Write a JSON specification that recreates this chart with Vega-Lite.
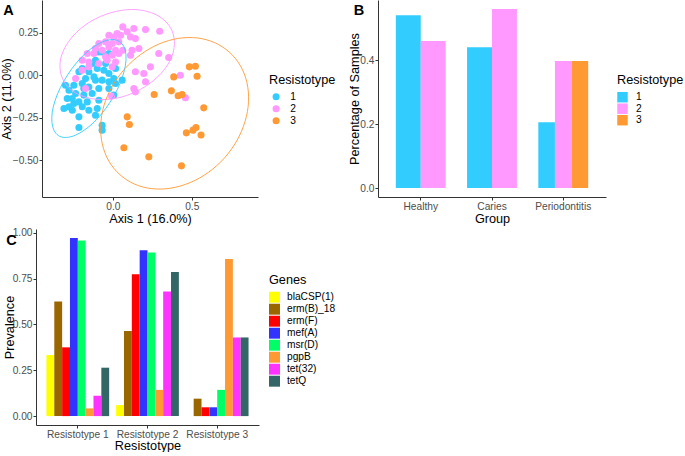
{
"$schema": "https://vega.github.io/schema/vega-lite/v6.json",
"padding": 0,
"background": "white",
"config": {
  "font": "Liberation Sans",
  "view": {"stroke": null},
  "axis": {"domainColor": "#333333", "domainWidth": 1, "tickColor": "#333333", "tickSize": 3, "labelColor": "#4D4D4D", "labelFontSize": 10.2, "titleFontSize": 12.7, "titleFontWeight": "normal", "titleColor": "#000000", "grid": false, "labelPadding": 1, "titlePadding": 1},
  "axisY": {"titlePadding": -2},
  "legend": {"titleFontSize": 12.7, "titleFontWeight": "normal", "labelFontSize": 10.2, "labelColor": "#000000", "titleColor": "#000000", "padding": 0, "symbolStrokeWidth": 0},
  "title": {"fontSize": 14.5, "fontWeight": "bold", "anchor": "start", "frame": "bounds", "baseline": "top", "offset": -18, "color": "#000000"}
},
"datasets": {
  "pts": [
    {"x":-0.089,"y":0.137,"R":"1"},{"x":-0.110,"y":0.088,"R":"1"},{"x":-0.131,"y":0.069,"R":"1"},{"x":-0.046,"y":0.069,"R":"1"},{"x":-0.194,"y":0.039,"R":"1"},{"x":-0.215,"y":0.020,"R":"1"},{"x":-0.152,"y":0.020,"R":"1"},{"x":-0.099,"y":0.039,"R":"1"},{"x":-0.057,"y":0.029,"R":"1"},{"x":-0.025,"y":0.010,"R":"1"},{"x":0.017,"y":0.039,"R":"1"},{"x":-0.173,"y":-0.020,"R":"1"},{"x":-0.120,"y":-0.010,"R":"1"},{"x":-0.068,"y":-0.029,"R":"1"},{"x":-0.025,"y":-0.039,"R":"1"},{"x":0.017,"y":-0.049,"R":"1"},{"x":0.059,"y":-0.029,"R":"1"},{"x":-0.300,"y":-0.059,"R":"1"},{"x":-0.247,"y":-0.059,"R":"1"},{"x":-0.194,"y":-0.049,"R":"1"},{"x":-0.152,"y":-0.069,"R":"1"},{"x":-0.089,"y":-0.078,"R":"1"},{"x":-0.025,"y":-0.078,"R":"1"},{"x":0.006,"y":-0.117,"R":"1"},{"x":-0.278,"y":-0.088,"R":"1"},{"x":-0.236,"y":-0.108,"R":"1"},{"x":-0.184,"y":-0.117,"R":"1"},{"x":-0.131,"y":-0.108,"R":"1"},{"x":-0.257,"y":-0.137,"R":"1"},{"x":-0.215,"y":-0.157,"R":"1"},{"x":-0.278,"y":-0.186,"R":"1"},{"x":-0.310,"y":-0.196,"R":"1"},{"x":-0.257,"y":-0.206,"R":"1"},{"x":-0.194,"y":-0.186,"R":"1"},{"x":-0.152,"y":-0.206,"R":"1"},{"x":-0.110,"y":-0.235,"R":"1"},{"x":-0.215,"y":-0.245,"R":"1"},{"x":-0.099,"y":-0.196,"R":"1"},{"x":-0.068,"y":-0.294,"R":"1"},{"x":-0.068,"y":-0.323,"R":"1"},{"x":-0.215,"y":-0.307,"R":"1"},{"x":-0.162,"y":-0.157,"R":"1"},{"x":-0.247,"y":-0.166,"R":"1"},{"x":-0.089,"y":-0.147,"R":"1"},{"x":-0.289,"y":-0.137,"R":"1"},{"x":-0.184,"y":-0.078,"R":"1"},{"x":-0.110,"y":0.137,"R":"1"},{"x":-0.068,"y":0.137,"R":"1"},{"x":-0.025,"y":0.127,"R":"1"},{"x":0.006,"y":-0.020,"R":"1"},{"x":-0.110,"y":-0.029,"R":"1"},
    {"x":0.063,"y":0.284,"R":"2"},{"x":0.133,"y":0.274,"R":"2"},{"x":0.207,"y":0.268,"R":"2"},{"x":0.297,"y":0.258,"R":"2"},{"x":0.027,"y":0.245,"R":"2"},{"x":0.091,"y":0.255,"R":"2"},{"x":-0.025,"y":0.235,"R":"2"},{"x":0.006,"y":0.225,"R":"2"},{"x":0.049,"y":0.235,"R":"2"},{"x":0.112,"y":0.225,"R":"2"},{"x":0.143,"y":0.215,"R":"2"},{"x":-0.089,"y":0.186,"R":"2"},{"x":-0.046,"y":0.196,"R":"2"},{"x":-0.004,"y":0.186,"R":"2"},{"x":0.038,"y":0.196,"R":"2"},{"x":-0.110,"y":0.157,"R":"2"},{"x":-0.068,"y":0.147,"R":"2"},{"x":-0.025,"y":0.166,"R":"2"},{"x":0.017,"y":0.147,"R":"2"},{"x":0.063,"y":0.147,"R":"2"},{"x":0.122,"y":0.147,"R":"2"},{"x":0.165,"y":0.157,"R":"2"},{"x":-0.162,"y":0.127,"R":"2"},{"x":-0.120,"y":0.127,"R":"2"},{"x":-0.046,"y":0.108,"R":"2"},{"x":-0.004,"y":0.117,"R":"2"},{"x":0.038,"y":0.127,"R":"2"},{"x":0.112,"y":0.117,"R":"2"},{"x":0.291,"y":0.127,"R":"2"},{"x":0.354,"y":0.104,"R":"2"},{"x":-0.194,"y":0.088,"R":"2"},{"x":-0.152,"y":0.078,"R":"2"},{"x":-0.089,"y":0.069,"R":"2"},{"x":-0.036,"y":0.088,"R":"2"},{"x":0.017,"y":0.078,"R":"2"},{"x":0.238,"y":0.049,"R":"2"},{"x":0.143,"y":0.020,"R":"2"},{"x":0.196,"y":0.010,"R":"2"},{"x":-0.194,"y":0.029,"R":"2"},{"x":-0.152,"y":0.049,"R":"2"},{"x":-0.236,"y":-0.020,"R":"2"},{"x":-0.004,"y":0.049,"R":"2"},{"x":0.207,"y":-0.039,"R":"2"},{"x":0.133,"y":-0.078,"R":"2"},{"x":0.143,"y":-0.098,"R":"2"},{"x":-0.173,"y":-0.078,"R":"2"},{"x":-0.008,"y":-0.123,"R":"2"},{"x":0.428,"y":0.000,"R":"2"},{"x":0.460,"y":-0.133,"R":"2"},
    {"x":0.485,"y":0.049,"R":"3"},{"x":0.523,"y":0.053,"R":"3"},{"x":0.386,"y":-0.010,"R":"3"},{"x":0.534,"y":-0.006,"R":"3"},{"x":0.262,"y":-0.114,"R":"3"},{"x":0.371,"y":-0.092,"R":"3"},{"x":0.414,"y":-0.121,"R":"3"},{"x":0.439,"y":-0.114,"R":"3"},{"x":0.576,"y":-0.192,"R":"3"},{"x":0.466,"y":-0.339,"R":"3"},{"x":0.508,"y":-0.323,"R":"3"},{"x":0.527,"y":-0.307,"R":"3"},{"x":0.559,"y":-0.352,"R":"3"},{"x":0.091,"y":-0.245,"R":"3"},{"x":0.105,"y":-0.290,"R":"3"},{"x":0.070,"y":-0.427,"R":"3"},{"x":0.228,"y":-0.480,"R":"3"},{"x":0.435,"y":-0.533,"R":"3"}
  ],
  "ell": [
    {"R":"1","k":0,"x":0.041,"y":0.198},{"R":"1","k":1,"x":0.000,"y":0.209},{"R":"1","k":2,"x":-0.052,"y":0.201},{"R":"1","k":3,"x":-0.110,"y":0.174},{"R":"1","k":4,"x":-0.172,"y":0.130},{"R":"1","k":5,"x":-0.232,"y":0.071},{"R":"1","k":6,"x":-0.286,"y":0.003},{"R":"1","k":7,"x":-0.332,"y":-0.072},{"R":"1","k":8,"x":-0.365,"y":-0.146},{"R":"1","k":9,"x":-0.384,"y":-0.216},{"R":"1","k":10,"x":-0.386,"y":-0.277},{"R":"1","k":11,"x":-0.373,"y":-0.324},{"R":"1","k":12,"x":-0.345,"y":-0.355},{"R":"1","k":13,"x":-0.304,"y":-0.366},{"R":"1","k":14,"x":-0.252,"y":-0.358},{"R":"1","k":15,"x":-0.194,"y":-0.331},{"R":"1","k":16,"x":-0.132,"y":-0.287},{"R":"1","k":17,"x":-0.072,"y":-0.228},{"R":"1","k":18,"x":-0.018,"y":-0.159},{"R":"1","k":19,"x":0.028,"y":-0.085},{"R":"1","k":20,"x":0.061,"y":-0.010},{"R":"1","k":21,"x":0.080,"y":0.060},{"R":"1","k":22,"x":0.083,"y":0.120},{"R":"1","k":23,"x":0.070,"y":0.168},
    {"R":"2","k":0,"x":0.375,"y":0.261},{"R":"2","k":1,"x":0.336,"y":0.314},{"R":"2","k":2,"x":0.276,"y":0.355},{"R":"2","k":3,"x":0.199,"y":0.379},{"R":"2","k":4,"x":0.111,"y":0.386},{"R":"2","k":5,"x":0.016,"y":0.374},{"R":"2","k":6,"x":-0.077,"y":0.346},{"R":"2","k":7,"x":-0.164,"y":0.302},{"R":"2","k":8,"x":-0.237,"y":0.246},{"R":"2","k":9,"x":-0.292,"y":0.181},{"R":"2","k":10,"x":-0.326,"y":0.113},{"R":"2","k":11,"x":-0.335,"y":0.045},{"R":"2","k":12,"x":-0.320,"y":-0.018},{"R":"2","k":13,"x":-0.281,"y":-0.072},{"R":"2","k":14,"x":-0.221,"y":-0.112},{"R":"2","k":15,"x":-0.144,"y":-0.136},{"R":"2","k":16,"x":-0.056,"y":-0.143},{"R":"2","k":17,"x":0.039,"y":-0.132},{"R":"2","k":18,"x":0.132,"y":-0.103},{"R":"2","k":19,"x":0.218,"y":-0.059},{"R":"2","k":20,"x":0.292,"y":-0.003},{"R":"2","k":21,"x":0.347,"y":0.061},{"R":"2","k":22,"x":0.381,"y":0.130},{"R":"2","k":23,"x":0.390,"y":0.198},
    {"R":"3","k":0,"x":0.739,"y":0.135},{"R":"3","k":1,"x":0.646,"y":0.191},{"R":"3","k":2,"x":0.535,"y":0.219},{"R":"3","k":3,"x":0.414,"y":0.216},{"R":"3","k":4,"x":0.292,"y":0.183},{"R":"3","k":5,"x":0.177,"y":0.122},{"R":"3","k":6,"x":0.076,"y":0.038},{"R":"3","k":7,"x":-0.003,"y":-0.064},{"R":"3","k":8,"x":-0.056,"y":-0.177},{"R":"3","k":9,"x":-0.077,"y":-0.293},{"R":"3","k":10,"x":-0.067,"y":-0.404},{"R":"3","k":11,"x":-0.026,"y":-0.504},{"R":"3","k":12,"x":0.044,"y":-0.584},{"R":"3","k":13,"x":0.137,"y":-0.640},{"R":"3","k":14,"x":0.248,"y":-0.667},{"R":"3","k":15,"x":0.368,"y":-0.664},{"R":"3","k":16,"x":0.491,"y":-0.631},{"R":"3","k":17,"x":0.606,"y":-0.571},{"R":"3","k":18,"x":0.707,"y":-0.487},{"R":"3","k":19,"x":0.786,"y":-0.385},{"R":"3","k":20,"x":0.838,"y":-0.272},{"R":"3","k":21,"x":0.860,"y":-0.156},{"R":"3","k":22,"x":0.850,"y":-0.044},{"R":"3","k":23,"x":0.809,"y":0.055}
  ],
  "grp": [
    {"Group":"Healthy","R":"1","pct":0.54},{"Group":"Healthy","R":"2","pct":0.46},
    {"Group":"Caries","R":"1","pct":0.44},{"Group":"Caries","R":"2","pct":0.56},
    {"Group":"Periodontitis","R":"1","pct":0.206},{"Group":"Periodontitis","R":"2","pct":0.397},{"Group":"Periodontitis","R":"3","pct":0.397}
  ],
  "genes": [
    {"RT":"Resistotype 1","Genes":"blaCSP(1)","p":0.333},{"RT":"Resistotype 1","Genes":"erm(B)_18","p":0.625},{"RT":"Resistotype 1","Genes":"erm(F)","p":0.375},{"RT":"Resistotype 1","Genes":"mef(A)","p":0.972},{"RT":"Resistotype 1","Genes":"msr(D)","p":0.958},{"RT":"Resistotype 1","Genes":"pgpB","p":0.042},{"RT":"Resistotype 1","Genes":"tet(32)","p":0.111},{"RT":"Resistotype 1","Genes":"tetQ","p":0.264},
    {"RT":"Resistotype 2","Genes":"blaCSP(1)","p":0.060},{"RT":"Resistotype 2","Genes":"erm(B)_18","p":0.464},{"RT":"Resistotype 2","Genes":"erm(F)","p":0.774},{"RT":"Resistotype 2","Genes":"mef(A)","p":0.905},{"RT":"Resistotype 2","Genes":"msr(D)","p":0.893},{"RT":"Resistotype 2","Genes":"pgpB","p":0.143},{"RT":"Resistotype 2","Genes":"tet(32)","p":0.679},{"RT":"Resistotype 2","Genes":"tetQ","p":0.786},
    {"RT":"Resistotype 3","Genes":"blaCSP(1)","p":0.0},{"RT":"Resistotype 3","Genes":"erm(B)_18","p":0.095},{"RT":"Resistotype 3","Genes":"erm(F)","p":0.048},{"RT":"Resistotype 3","Genes":"mef(A)","p":0.048},{"RT":"Resistotype 3","Genes":"msr(D)","p":0.143},{"RT":"Resistotype 3","Genes":"pgpB","p":0.857},{"RT":"Resistotype 3","Genes":"tet(32)","p":0.429},{"RT":"Resistotype 3","Genes":"tetQ","p":0.429}
  ]
},
"columns": 1,
"spacing": 2,
"align": "none",
"resolve": {"scale": {"color": "independent"}, "legend": {"color": "independent"}},
"concat": [
  {
    "hconcat": [
      {
        "width": 222, "height": 197,
        "title": {"text": "A", "dx": 3},
        "layer": [
          {
            "data": {"name": "pts"},
            "mark": {"type": "circle", "size": 50, "opacity": 1},
            "encoding": {
              "x": {"field": "x", "type": "quantitative", "scale": {"domain": [-0.449, 0.92], "range": [6, 222], "nice": false, "zero": false}, "axis": {"title": "Axis 1 (16.0%)", "values": [0, 0.5], "format": ".1f"}},
              "y": {"field": "y", "type": "quantitative", "scale": {"domain": [-0.716, 0.442], "nice": false, "zero": false}, "axis": {"title": "Axis 2 (11.0%)", "values": [-0.5, -0.25, 0, 0.25], "format": ".2f", "titlePadding": -1, "offset": -6}},
              "color": {"field": "R", "type": "nominal", "scale": {"domain": ["1", "2", "3"], "range": ["#33CCFF", "#FF99FF", "#FF9933"]},
                "legend": {"title": "Resistotype", "orient": "none", "legendX": 233, "legendY": 74, "symbolType": "circle", "symbolSize": 50, "labelOffset": 9, "titlePadding": 5, "rowPadding": 1, "symbolOffset": 2}}
            }
          },
          {
            "data": {"name": "ell"},
            "mark": {"type": "line", "strokeWidth": 0.9, "interpolate": "cardinal-closed"},
            "encoding": {
              "x": {"field": "x", "type": "quantitative"},
              "y": {"field": "y", "type": "quantitative"},
              "stroke": {"field": "R", "type": "nominal", "scale": {"domain": ["1", "2", "3"], "range": ["#33CCFF", "#FF99FF", "#FF9933"]}, "legend": null},
              "order": {"field": "k", "type": "quantitative"}
            }
          }
        ]
      },
      {
        "width": 228, "height": 197,
        "title": {"text": "B", "dx": 5},
        "data": {"name": "grp"},
        "layer": [
          {
            "transform": [{"filter": "datum.Group != 'Periodontitis'"}],
            "mark": "bar",
            "encoding": {
              "x": {"field": "Group", "type": "nominal", "scale": {"domain": ["Healthy", "Caries", "Periodontitis"], "paddingInner": 0.3, "paddingOuter": 0.25}, "axis": {"title": "Group", "labelAngle": 0}},
              "xOffset": {"field": "R", "type": "nominal"},
              "y": {"field": "pct", "type": "quantitative", "scale": {"domain": [-0.028, 0.588], "nice": false, "zero": false}, "axis": {"title": "Percentage of Samples", "values": [0, 0.2, 0.4], "format": ".1f"}},
              "color": {"field": "R", "type": "nominal", "scale": {"domain": ["1", "2", "3"], "range": ["#33CCFF", "#FF99FF", "#FF9933"]},
                "legend": {"title": "Resistotype", "orient": "none", "legendX": 239, "legendY": 74, "symbolType": "square", "symbolSize": 110, "labelOffset": 8, "titlePadding": 5, "rowPadding": 0.5}}
            }
          },
          {
            "transform": [{"filter": "datum.Group == 'Periodontitis'"}],
            "mark": "bar",
            "encoding": {
              "x": {"field": "Group", "type": "nominal", "scale": {"domain": ["Healthy", "Caries", "Periodontitis"], "paddingInner": 0.3, "paddingOuter": 0.25}, "axis": {"title": "Group", "labelAngle": 0}},
              "xOffset": {"field": "R", "type": "nominal"},
              "y": {"field": "pct", "type": "quantitative"},
              "color": {"field": "R", "type": "nominal", "scale": {"domain": ["1", "2", "3"], "range": ["#33CCFF", "#FF99FF", "#FF9933"]}}
            }
          }
        ],
        "resolve": {"scale": {"xOffset": "independent"}}
      }
    ],
    "spacing": 12,
    "resolve": {"scale": {"color": "independent"}, "legend": {"color": "independent"}}
  },
  {
    "hconcat": [
      {
        "width": 223, "height": 196,
        "title": {"text": "C", "dx": 3, "offset": -21},
        "data": {"name": "genes"},
        "mark": "bar",
        "encoding": {
          "x": {"field": "RT", "type": "nominal", "scale": {"paddingInner": 0.1, "paddingOuter": 0.15}, "axis": {"title": "Resistotype", "labelAngle": 0, "titlePadding": 0}},
          "xOffset": {"field": "Genes", "type": "nominal", "scale": {"domain": ["blaCSP(1)", "erm(B)_18", "erm(F)", "mef(A)", "msr(D)", "pgpB", "tet(32)", "tetQ"]}},
          "y": {"field": "p", "type": "quantitative", "scale": {"domain": [-0.0486, 1.0206], "nice": false, "zero": false}, "axis": {"title": "Prevalence", "values": [0, 0.25, 0.5, 0.75, 1], "format": ".2f", "titlePadding": -4}},
          "color": {"field": "Genes", "type": "nominal", "scale": {"domain": ["blaCSP(1)", "erm(B)_18", "erm(F)", "mef(A)", "msr(D)", "pgpB", "tet(32)", "tetQ"], "range": ["#FFFF00", "#996600", "#FF0000", "#3333FF", "#00FF66", "#FF9933", "#FF33FF", "#336666"]},
            "legend": {"title": "Genes", "orient": "none", "legendX": 233, "legendY": 45, "symbolType": "square", "symbolSize": 120, "labelOffset": 7, "titlePadding": 5, "rowPadding": 1}}
        }
      }
    ]
  }
]
}
